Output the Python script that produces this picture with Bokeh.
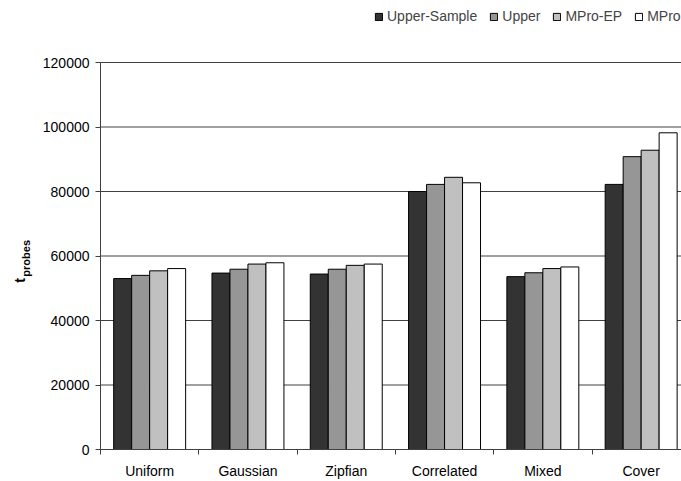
import math
from bokeh.plotting import figure
from bokeh.models import (Range1d, FixedTicker, NumeralTickFormatter, Legend,
                          LegendItem, Label)
from bokeh.embed import file_html
from bokeh.resources import INLINE

# ---- data ----
categories = ["Uniform", "Gaussian", "Zipfian", "Correlated", "Mixed", "Cover"]
series_names = ["Upper-Sample", "Upper", "MPro-EP", "MPro"]
upper_sample = [53000, 54700, 54400, 80000, 53600, 82200]
upper = [54000, 55900, 55900, 82200, 54800, 90800]
mpro_ep = [55400, 57500, 57100, 84400, 56100, 92800]
mpro = [56100, 57900, 57500, 82700, 56600, 98200]
y_ticks = [0, 20000, 40000, 60000, 80000, 100000, 120000]

series_values = [upper_sample, upper, mpro_ep, mpro]
colors = ["#333333", "#969696", "#c0c0c0", "#ffffff"]

FONT = "Liberation Sans"
AX = "#404040"

n = len(categories)
bw = 0.183
PX = 98.3                      # pixels per category
x_start = -100.0 / PX          # room for the y axis labels inside the frame
x_end = 581.0 / PX
y_max = y_ticks[-1]
UPP = y_max / 387.0            # y units per pixel
y_top = 449.0 * UPP            # room for the legend above the top tick
y_bottom = -32.0 * UPP         # room for the category labels below zero

p = figure(width=681, height=481, output_backend="svg", toolbar_location=None,
           x_range=Range1d(x_start, x_end), y_range=Range1d(y_bottom, y_top),
           min_border_left=0, min_border_right=0, min_border_top=0,
           min_border_bottom=0)
p.outline_line_color = None
p.background_fill_color = "white"
p.border_fill_color = "white"

# horizontal grid lines (only over the plotting area)
p.segment(x0=[0] * len(y_ticks), x1=[x_end] * len(y_ticks), y0=y_ticks,
          y1=y_ticks, line_color=AX, line_width=1)

renderers = []
for j, vals in enumerate(series_values):
    xs = [i + 0.5 + (j - 1.5) * bw for i in range(n)]
    r = p.vbar(x=xs, top=vals, width=bw, bottom=0, fill_color=colors[j],
               line_color="black", line_width=1)
    renderers.append(r)

# x axis drawn at y = 0
centers = [i + 0.5 for i in range(n)]
bounds = [float(i) for i in range(n)]
xa = p.xaxis[0]
xa.fixed_location = 0
xa.ticker = FixedTicker(ticks=centers, minor_ticks=bounds)
xa.bounds = (0, x_end)
xa.major_label_overrides = {c: lab for c, lab in zip(centers, categories)}
xa.major_tick_out = 0
xa.major_tick_in = 0
xa.minor_tick_out = 5
xa.minor_tick_in = 0
xa.minor_tick_line_color = AX
xa.axis_line_color = AX
xa.major_label_text_font = FONT
xa.major_label_text_font_size = "14px"
xa.major_label_text_color = "black"
xa.major_label_standoff = 8

# y axis drawn at x = 0
ya = p.yaxis[0]
ya.fixed_location = 0
ya.ticker = FixedTicker(ticks=y_ticks)
ya.bounds = (0, y_max)
ya.formatter = NumeralTickFormatter(format="0")
ya.major_tick_out = 5
ya.major_tick_in = 0
ya.minor_tick_out = 0
ya.minor_tick_in = 0
ya.major_tick_line_color = AX
ya.axis_line_color = AX
ya.major_label_text_font = FONT
ya.major_label_text_font_size = "14px"
ya.major_label_text_color = "black"
ya.major_label_standoff = 6

p.xgrid.visible = False
p.ygrid.visible = False

# y axis title t_probes
p.add_layout(Label(x=-81.0 / PX, y=52400, text="t", angle=math.pi / 2,
                   text_align="center", text_baseline="alphabetic",
                   text_font=FONT, text_font_size="14px",
                   text_font_style="bold", text_color="black"))
p.add_layout(Label(x=-75.0 / PX, y=53600, text="probes", angle=math.pi / 2,
                   text_align="left", text_baseline="alphabetic",
                   text_font=FONT, text_font_size="11px",
                   text_font_style="bold", text_color="black"))

legend = Legend(items=[LegendItem(label=nm, renderers=[r])
                       for nm, r in zip(series_names, renderers)],
                orientation="horizontal", location=(374, 457),
                glyph_width=9, glyph_height=9, label_standoff=4, spacing=12,
                padding=0, margin=0, border_line_color=None,
                background_fill_alpha=0, label_text_font=FONT,
                label_text_font_size="14px", label_height=14)
p.add_layout(legend, "center")

open("out.html", "w").write(file_html(p, INLINE))
